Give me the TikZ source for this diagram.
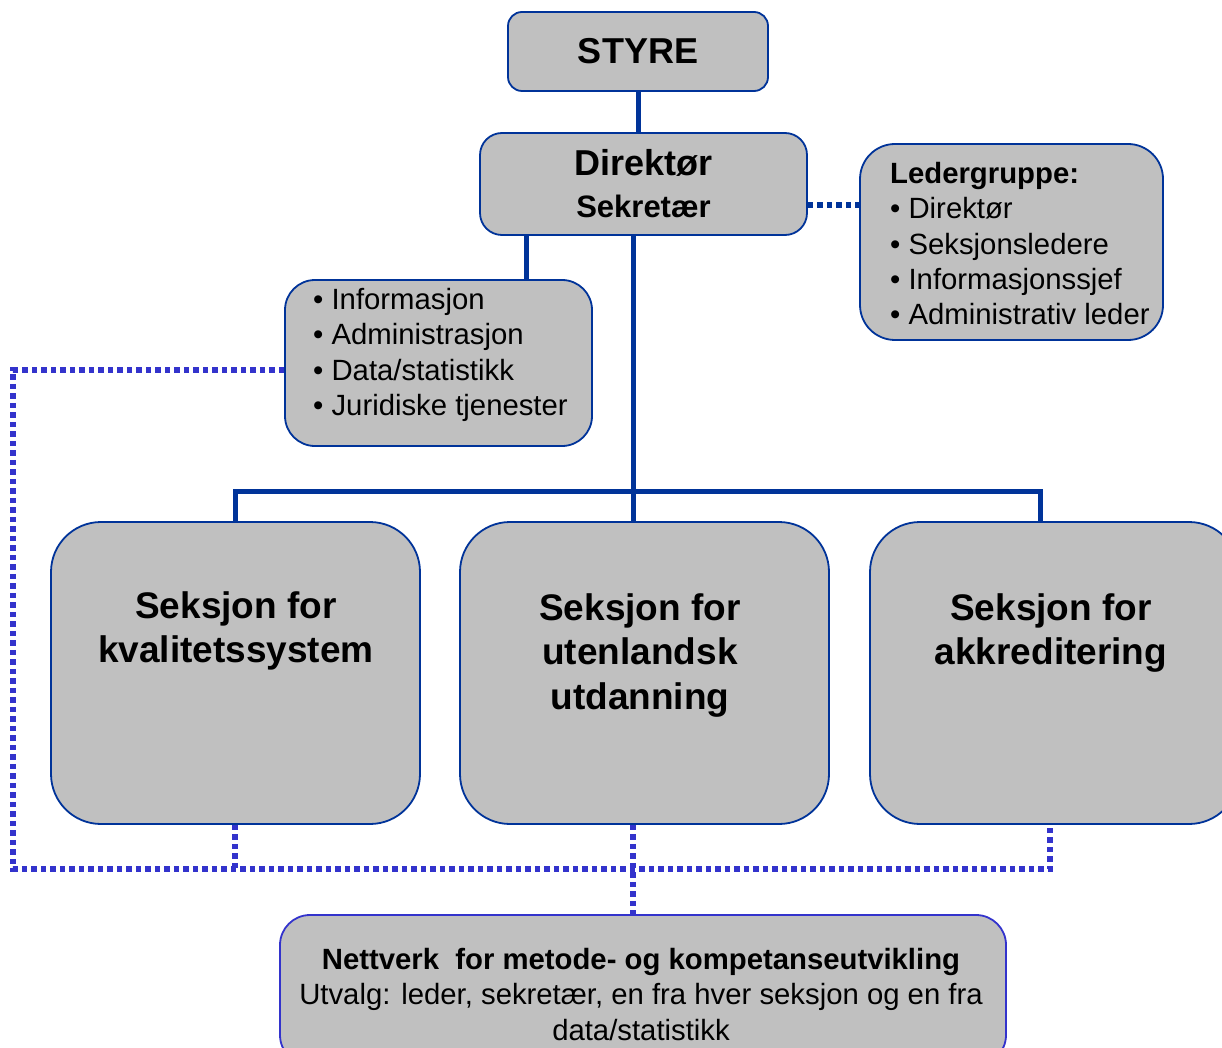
\documentclass[tikz,border=0pt]{standalone}
\usepackage{fontspec}
\setmainfont{Liberation Sans}
\definecolor{boxfill}{HTML}{C0C0C0}
\definecolor{navy}{HTML}{003399}
\definecolor{dotblue}{HTML}{3333CC}
\begin{document}
\begin{tikzpicture}[x=1pt,y=-1pt,
  box/.style={draw=navy, line width=1.8pt, fill=boxfill, rounded corners=#1, inner sep=0pt},
  box/.default=20pt,
  txt/.style={inner sep=0pt, text=black},
  conn/.style={draw=navy, line width=5pt},
  dotdark/.style={draw=navy, line width=5.5pt, dash pattern=on 5.5pt off 4pt},
  dotline/.style={draw=dotblue, line width=5.5pt, dash pattern=on 5.5pt off 4pt},
  listfont/.style={font=\fontsize{29.3}{35.3}\selectfont},
  secfont/.style={font=\fontsize{37}{44.5}\selectfont\bfseries}
]
\useasboundingbox (0,0) rectangle (1222,1048);

% boxes
\node[box=14pt, minimum width=260, minimum height=79] (styre) at (638,51.5)
  {\fontsize{36}{40}\selectfont\bfseries STYRE};
\node[box=22pt, minimum width=327, minimum height=102, align=center,
      font=\fontsize{31}{42}\selectfont\bfseries] (dir) at (643.5,184)
  {{\fontsize{36}{42}\selectfont Direktør}\\Sekretær};
\node[box=35pt, minimum width=303, minimum height=196] (led) at (1011.5,242) {};
\node[box=30pt, minimum width=307, minimum height=166] (info) at (438.5,363) {};
\node[box=50pt, minimum width=369, minimum height=302] (s1) at (235.5,673) {};
\node[box=50pt, minimum width=369, minimum height=302] (s2) at (644.5,673) {};
\node[box=50pt, minimum width=369, minimum height=302] (s3) at (1054.5,673) {};
\node[box=30pt, minimum width=726, minimum height=150, draw=dotblue] (net) at (643,990) {};

% texts
\node[txt, listfont, anchor=north west, align=left] (ledtxt) at (890,162)
  {\textbf{Ledergruppe:}\\• Direktør\\• Seksjonsledere\\• Informasjonssjef\\• Administrativ leder};
\node[txt, listfont, anchor=north west, align=left] (infotxt) at (313,288)
  {• Informasjon\\• Administrasjon\\• Data/statistikk\\• Juridiske tjenester};
\node[txt, secfont, anchor=north, align=center] (s1txt) at (236,591)
  {Seksjon for\\kvalitetssystem};
\node[txt, secfont, anchor=north, align=center] (s2txt) at (640,593)
  {Seksjon for\\utenlandsk\\utdanning};
\node[txt, secfont, anchor=north, align=center] (s3txt) at (1051,593)
  {Seksjon for\\akkreditering};
\node[txt, listfont, anchor=north, align=center] (nettxt) at (641,948)
  {\textbf{Nettverk\ \ for metode- og kompetanseutvikling}\\Utvalg: leder, sekretær, en fra hver seksjon og en fra\\data/statistikk};

% solid connectors
\draw[conn] (styre.south) -- (styre.south |- dir.north);
\draw[conn] (dir.south -| 526,0) -- (info.north -| 526,0);
\draw[conn] (dir.south -| 633,0) -- (s2.north -| 633,0);
\draw[conn] (s1.north -| 235,0) -- (235,491) -- (1040,491) -- (s3.north -| 1040,0);

% dotted connectors
\draw[dotdark] (dir.east |- 0,205) -- (led.west |- 0,205);
\draw[dotline] (info.west |- 0,370) -- (13,370) -- (13,869) -- (1050,869) -- (s3.south -| 1050,0);
\draw[dotline] (s1.south -| 235,0) -- (235,869);
\draw[dotline] (s2.south -| 633,0) -- (net.north -| 633,0);
\end{tikzpicture}
\end{document}
